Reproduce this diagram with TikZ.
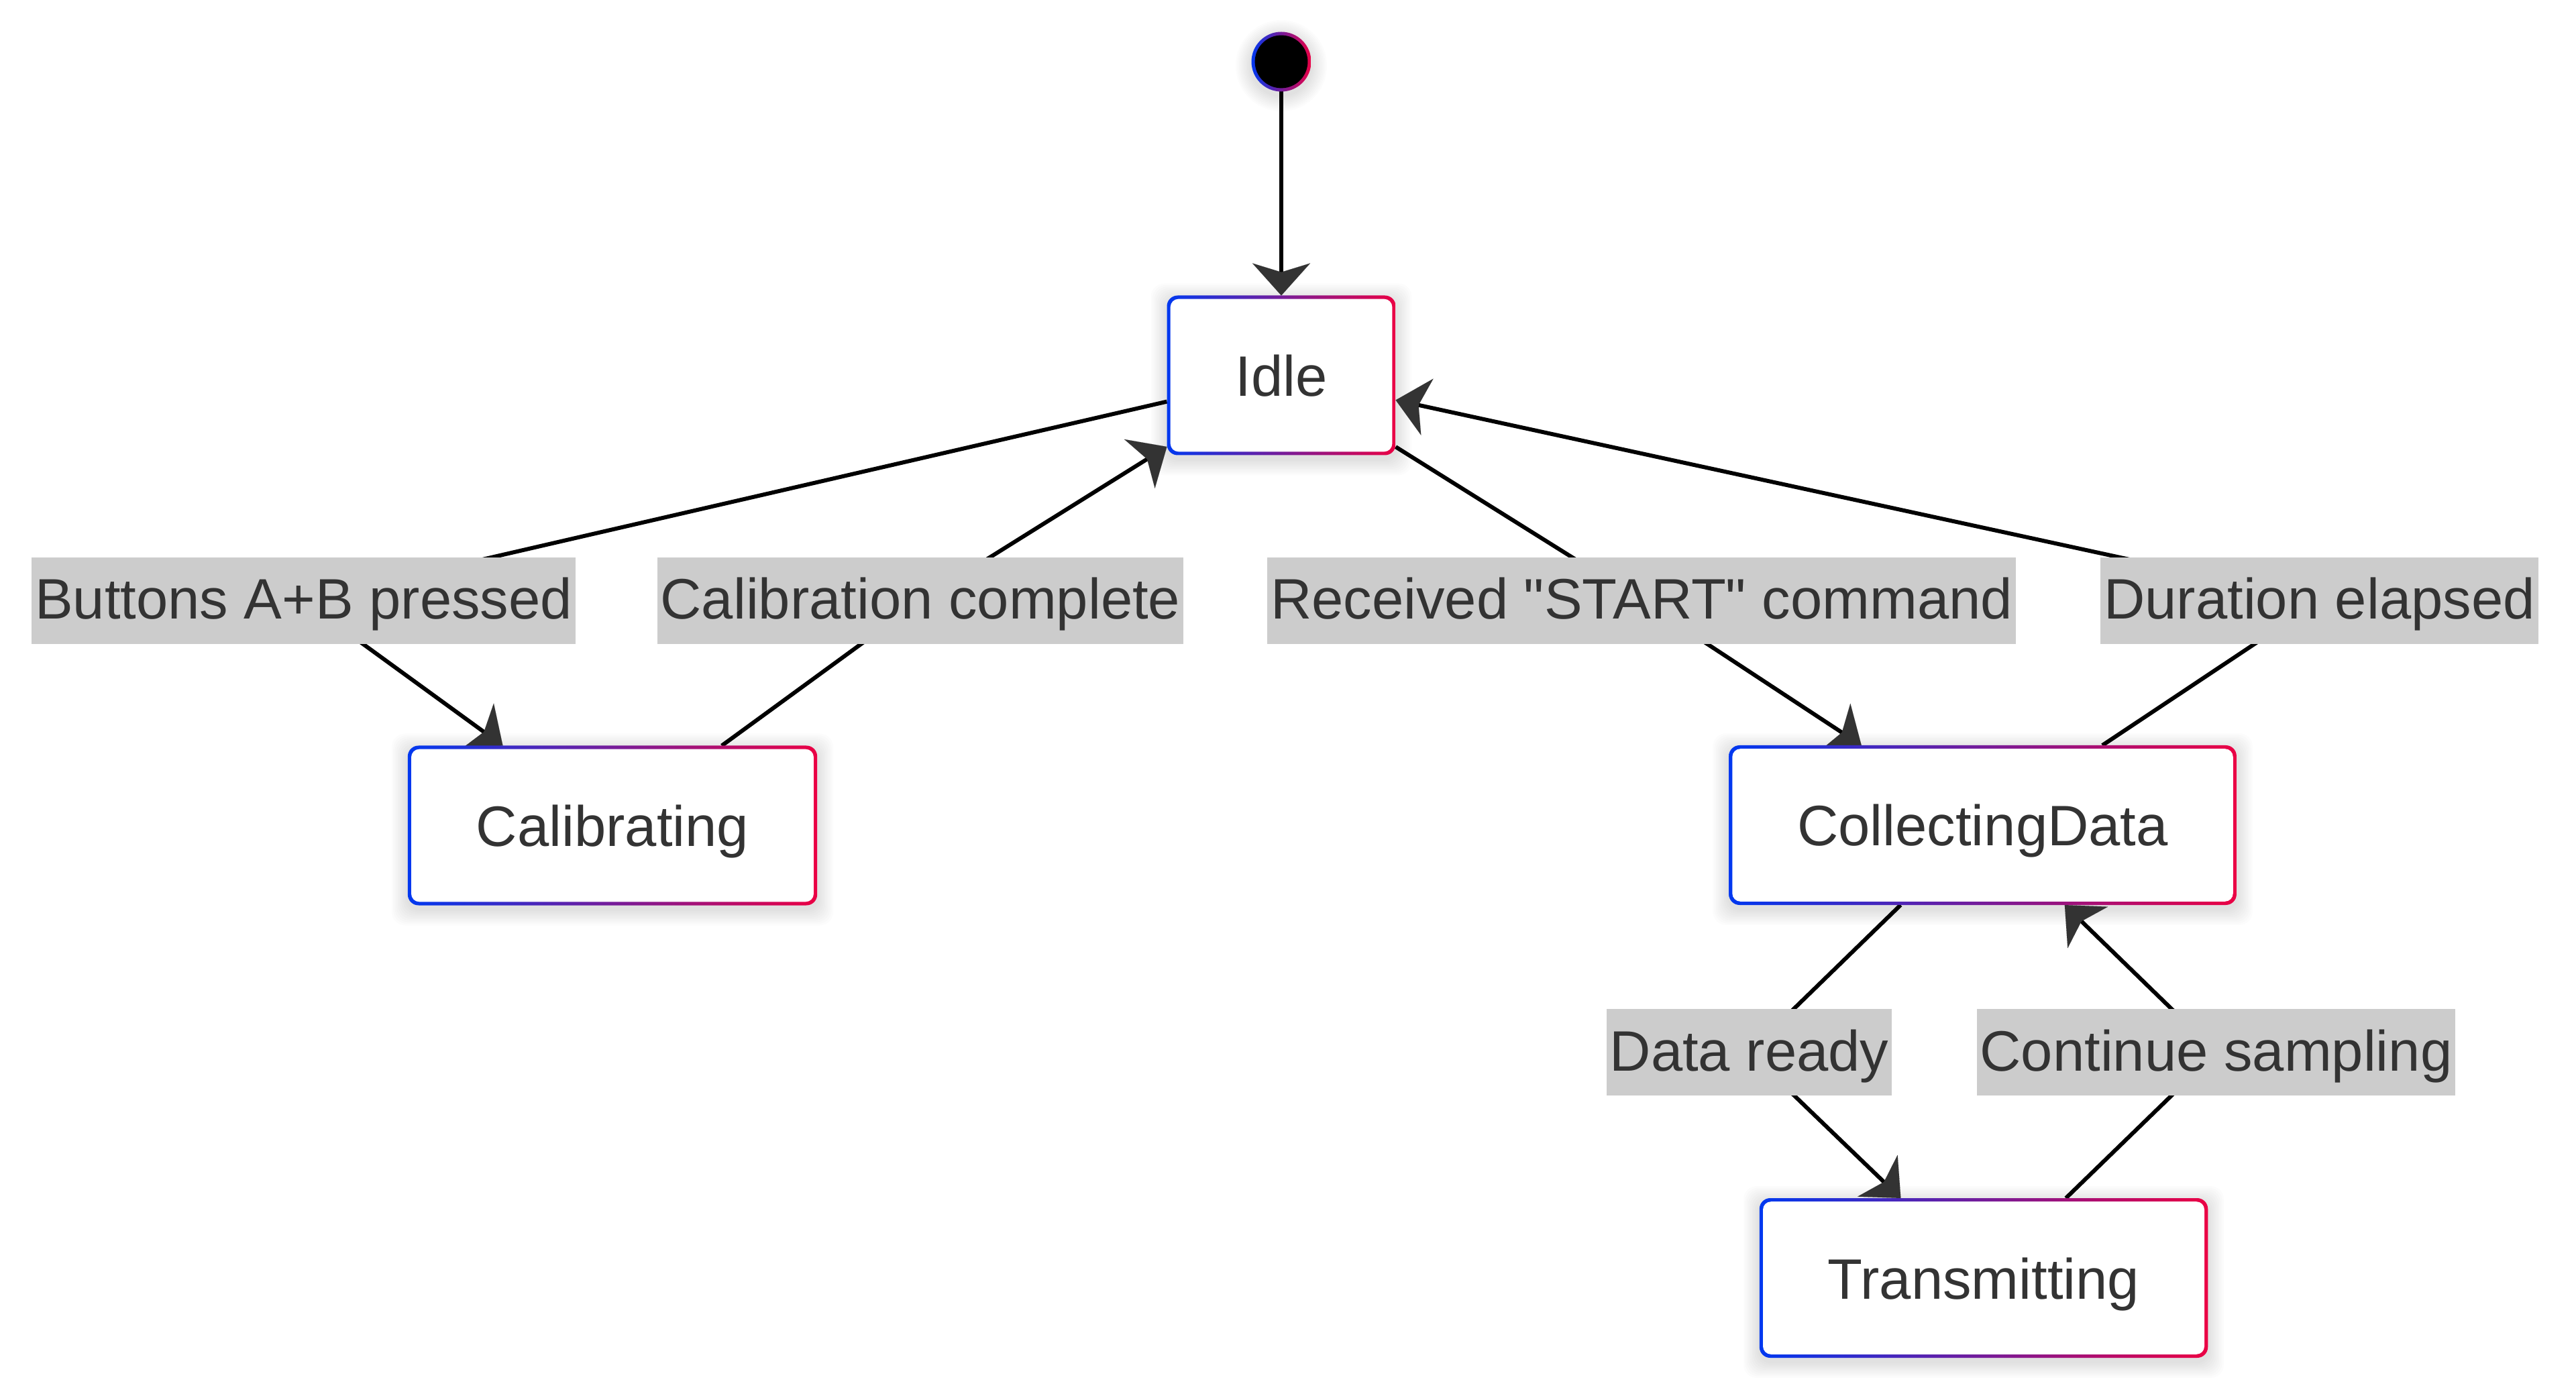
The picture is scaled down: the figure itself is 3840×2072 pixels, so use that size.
\documentclass[tikz,border=0pt]{standalone}
\usepackage{fontspec}
\newfontfamily\plainsans{Liberation Sans}
\usetikzlibrary{arrows.meta}
\definecolor{cblue}{RGB}{0,56,240}
\definecolor{cred}{RGB}{235,0,68}
\definecolor{txt}{RGB}{51,51,51}
\definecolor{lblbg}{RGB}{204,204,204}
\definecolor{tipc}{RGB}{51,51,51}
\pgfdeclarelayer{shadow}
\pgfdeclarelayer{edges}
\pgfsetlayers{shadow,edges,main}
\begin{document}
\begin{tikzpicture}[x=0.25pt, y=-0.25pt,
  every node/.style={font=\plainsans\fontsize{21.25pt}{25pt}\selectfont, text=txt, outer sep=0pt},
  state/.style={rectangle, rounded corners=4pt, left color=cblue, right color=cred,
    inner xsep=25.5pt, inner ysep=0pt, minimum height=59.5pt, text height=15.5pt, text depth=0pt,
    path picture={\fill[white, rounded corners=3pt]
      ([shift={(1.3pt,1.3pt)}]path picture bounding box.south west) rectangle
      ([shift={(-1.3pt,-1.3pt)}]path picture bounding box.north east);}},
  startst/.style={circle, minimum size=22.25pt, inner sep=0pt, left color=cblue, right color=cred,
    path picture={\fill[black] (path picture bounding box.center) circle (9.85pt);}},
  lbl/.style={rectangle, fill=lblbg, inner xsep=1.2pt, inner ysep=0pt, minimum height=32.25pt,
    text height=15.5pt, text depth=1.75pt},
  edge/.style={line width=1.5pt, draw=black, line join=round,
    -{Stealth[length=12pt, width=21.5pt, inset=3.3pt, line width=0.01pt, color=tipc]}}
]
\useasboundingbox (0,0) rectangle (3840,2072);

% states
\node[startst] (s) at (1910,92) {};
\node[state] (idle) at (1910,559.5) {Idle};
\node[state] (calib) at (913,1230.5) {Calibrating};
\node[state] (collect) at (2955.5,1230) {CollectingData};
\node[state] (trans) at (2957,1905) {Transmitting};

% labels
\node[lbl] (l1) at (452.5,895.5) {Buttons A+B pressed};
\node[lbl] (l2) at (1372,895.5) {Calibration complete};
\node[lbl] (l3) at (2447,895.5) {Received "START" command};
\node[lbl] (l4) at (3457.5,895.5) {Duration elapsed};
\node[lbl] (l5) at (2607.5,1568.5) {Data ready};
\node[lbl] (l6) at (3303.5,1568.5) {Continue sampling};

\begin{pgfonlayer}{shadow}
  \fill[white] (0,0) rectangle (3840,2072);
  \foreach \n in {idle,calib,collect,trans}{
    \foreach \k in {1,...,10}{
      \fill[black, opacity=0.012, rounded corners=5pt]
        ([shift={(-\k*0.6pt,-1.5pt-\k*0.6pt)}]\n.south west) rectangle
        ([shift={(\k*0.6pt,-1.5pt+\k*0.6pt)}]\n.north east);
    }
  }
  \foreach \k in {1,...,10}{
    \fill[black, opacity=0.012] ([yshift=-1.5pt]s.center) circle (11pt+\k*0.6pt);
  }
\end{pgfonlayer}

\begin{pgfonlayer}{edges}
  \draw[edge] (s) -- (idle);
  \draw[edge] (idle) -- (l1.center) -- (calib);
  \draw[edge] (calib) -- (l2.center) -- (idle);
  \draw[edge] (idle) -- (l3.center) -- (collect);
  \draw[edge] (collect) -- (l4.center) -- (idle);
  \draw[edge] (collect) -- (l5.center) -- (trans);
  \draw[edge] (trans) -- (l6.center) -- (collect);
\end{pgfonlayer}
\end{tikzpicture}
\end{document}
